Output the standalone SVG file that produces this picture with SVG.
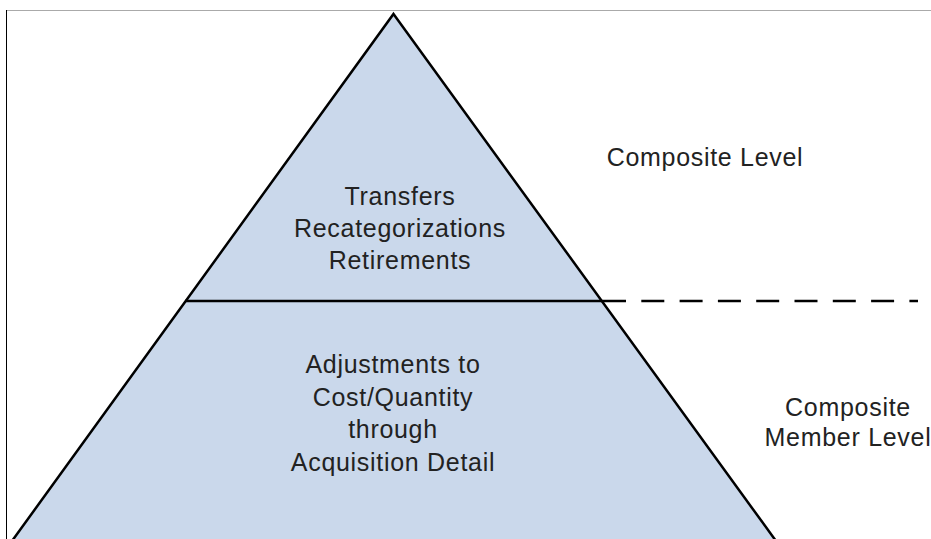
<svg xmlns="http://www.w3.org/2000/svg" width="931" height="539" viewBox="0 0 931 539">
<style>
.t{font-family:"Liberation Sans",Arial,sans-serif;font-size:25px;fill:#222;text-anchor:middle;letter-spacing:0.7px}
.edge{stroke:#000;stroke-width:2.5;fill:none}
</style>
<rect x="0" y="0" width="931" height="539" fill="#fff"/>
<g id="frame">
<line x1="6" y1="10.5" x2="931" y2="10.5" stroke="#aaa" stroke-width="1"/>
<line x1="6.5" y1="10" x2="6.5" y2="539" stroke="#000" stroke-width="1"/>
</g>
<g id="pyramid">
<polygon points="393.5,14 776,541 12,541" fill="#cad8eb" stroke="#000" stroke-width="2.5" stroke-linejoin="miter"/>
</g>
<g id="connectors">
<line class="edge" x1="185" y1="301" x2="603" y2="301"/>
<line class="edge" x1="603" y1="301" x2="918" y2="301" stroke-dasharray="23 15.3"/>
</g>
<g id="top-tier">
<text class="t" x="400" y="205">Transfers</text>
<text class="t" x="400" y="237">Recategorizations</text>
<text class="t" x="400" y="269">Retirements</text>
</g>
<g id="bottom-tier">
<text class="t" x="393" y="373">Adjustments to</text>
<text class="t" x="393" y="406">Cost/Quantity</text>
<text class="t" x="393" y="438">through</text>
<text class="t" x="393" y="471">Acquisition Detail</text>
</g>
<g id="composite-level">
<text class="t" x="705" y="166">Composite Level</text>
</g>
<g id="composite-member-level">
<text class="t" x="848" y="416">Composite</text>
<text class="t" x="848" y="446">Member Level</text>
</g>
</svg>
